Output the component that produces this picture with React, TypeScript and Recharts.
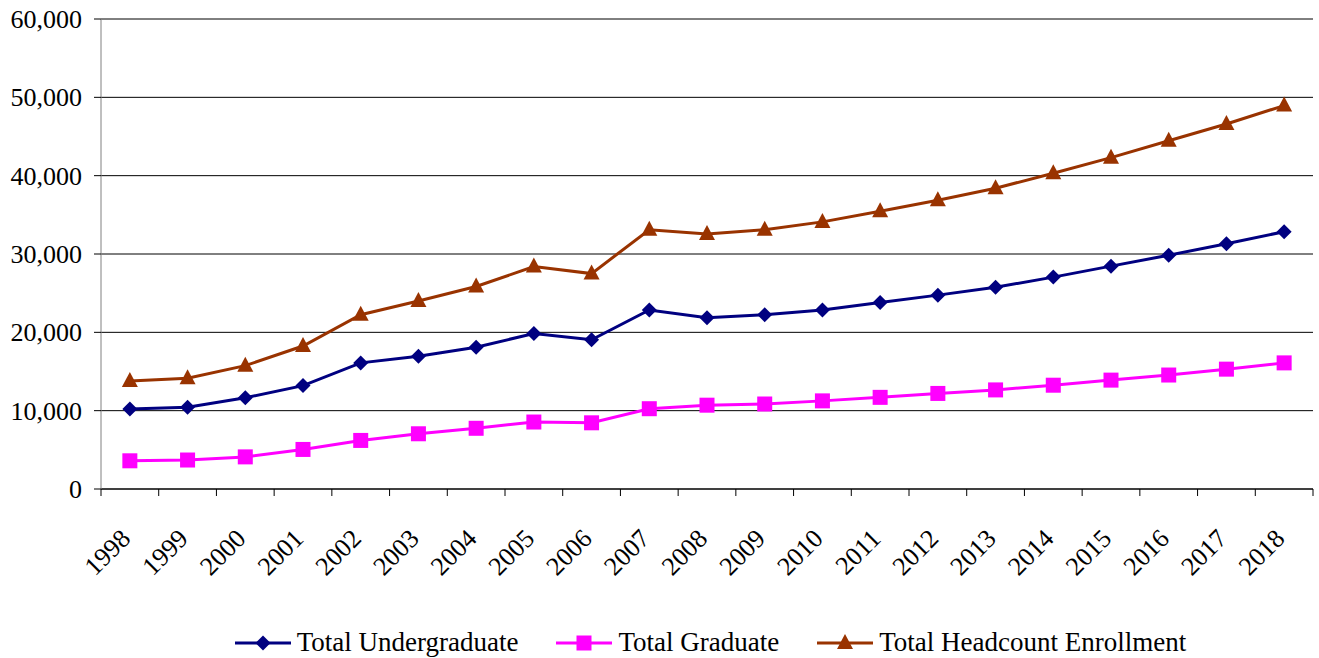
import React from 'react';
import { LineChart, Line, XAxis, YAxis, CartesianGrid, Legend } from 'recharts';

const years = ['1998', '1999', '2000', '2001', '2002', '2003', '2004', '2005', '2006', '2007', '2008',
  '2009', '2010', '2011', '2012', '2013', '2014', '2015', '2016', '2017', '2018'];

const undergraduate = [10200, 10450, 11650, 13200, 16100, 16950, 18100, 19850, 19050, 22850, 21850,
  22250, 22850, 23800, 24750, 25750, 27050, 28450, 29850, 31300, 32850];

const graduate = [3600, 3700, 4100, 5050, 6200, 7050, 7750, 8550, 8450, 10250, 10700,
  10850, 11250, 11700, 12200, 12650, 13250, 13900, 14550, 15300, 16100];

const headcount = [13800, 14150, 15750, 18250, 22250, 24000, 25850, 28400, 27500, 33100, 32550,
  33100, 34100, 35450, 36850, 38400, 40300, 42300, 44450, 46600, 48950];

const yTicks = [0, 10000, 20000, 30000, 40000, 50000, 60000];

const seriesInfo = [
  { key: 'ug', name: 'Total Undergraduate', color: '#000080', shape: 'diamond' },
  { key: 'grad', name: 'Total Graduate', color: '#FF00FF', shape: 'square' },
  { key: 'hc', name: 'Total Headcount Enrollment', color: '#993300', shape: 'triangle' },
];

const data = years.map((y, i) => ({
  x: i,
  year: y,
  ug: undergraduate[i],
  grad: graduate[i],
  hc: headcount[i],
}));

// band edges for the tick marks, band centres for the year labels
const edgeTicks = years.map((_, i) => i - 0.5).concat([years.length - 0.5]);
const centreTicks = years.map((_, i) => i);

const FONT = '"Liberation Serif", "Times New Roman", serif';

const Marker = ({ cx, cy, shape, color }: any) => {
  if (cx == null || cy == null) return null;
  if (shape === 'diamond') {
    const r = 7.5;
    return <polygon points={`${cx},${cy - r} ${cx + r},${cy} ${cx},${cy + r} ${cx - r},${cy}`} fill={color} />;
  }
  if (shape === 'square') {
    const s = 7.5;
    return <rect x={cx - s} y={cy - s} width={s * 2} height={s * 2} fill={color} />;
  }
  return <polygon points={`${cx},${cy - 9} ${cx + 8},${cy + 6} ${cx - 8},${cy + 6}`} fill={color} />;
};

const YearTick = ({ x, y, payload }: any) => {
  const ty = y + 43;
  return (
    <text x={x + 2} y={ty} transform={`rotate(-45, ${x + 2}, ${ty})`} textAnchor="end"
      style={{ fontFamily: FONT, fontSize: 26 }} fill="#000">
      {years[payload.value]}
    </text>
  );
};

const ValueTick = ({ x, y, payload }: any) => (
  <text x={x} y={y} dy={9} textAnchor="end" style={{ fontFamily: FONT, fontSize: 26 }} fill="#000">
    {payload.value.toLocaleString('en-US')}
  </text>
);

const LegendBox = () => (
  <div style={{ display: 'flex', justifyContent: 'center', alignItems: 'center', paddingLeft: 108,
    paddingTop: 9, fontFamily: FONT, fontSize: 27, color: '#000' }}>
    {seriesInfo.map((s, i) => (
      <div key={s.key} style={{ display: 'flex', alignItems: 'center', marginRight: i < seriesInfo.length - 1 ? 38 : 0 }}>
        <svg width={56} height={20} style={{ marginRight: 6 }}>
          <line x1={0} y1={10} x2={56} y2={10} stroke={s.color} strokeWidth={3} />
          <Marker cx={28} cy={10} shape={s.shape} color={s.color} />
        </svg>
        <span>{s.name}</span>
      </div>
    ))}
  </div>
);

export default function App() {
  return (
    <div style={{ position: 'absolute', left: 0, top: 0, background: '#fff' }}>
      <LineChart width={1319} height={658} data={data} margin={{ top: 19, right: 6, left: 0, bottom: 0 }}>
        <CartesianGrid vertical={false} stroke="#000" />
        <XAxis xAxisId="edges" dataKey="x" type="number" domain={[-0.5, years.length - 0.5]}
          ticks={edgeTicks} interval={0} tickFormatter={() => ''} height={8}
          axisLine={{ stroke: '#000' }} tickLine={{ stroke: '#000' }} tickSize={7} />
        <XAxis xAxisId="years" dataKey="x" type="number" domain={[-0.5, years.length - 0.5]}
          ticks={centreTicks} interval={0} height={121} axisLine={false} tickLine={false}
          tickSize={0} tickMargin={0} tick={<YearTick />} />
        <YAxis domain={[0, 60000]} ticks={yTicks} width={101} interval={0}
          axisLine={{ stroke: '#808080' }} tickLine={{ stroke: '#000' }} tickSize={7} tickMargin={12}
          tick={<ValueTick />} />
        <Legend verticalAlign="bottom" height={40} content={<LegendBox />} />
        {seriesInfo.map((s) => (
          <Line key={s.key} xAxisId="edges" dataKey={s.key} name={s.name} stroke={s.color} strokeWidth={3}
            isAnimationActive={false}
            dot={(p: any) => <Marker key={`${s.key}-${p.index}`} cx={p.cx} cy={p.cy} shape={s.shape} color={s.color} />}
            activeDot={false} />
        ))}
      </LineChart>
    </div>
  );
}
